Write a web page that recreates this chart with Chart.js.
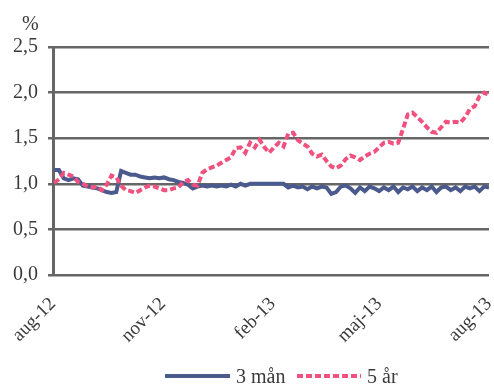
<!DOCTYPE html>
<html>
<head>
<meta charset="utf-8">
<script src="https://cdn.jsdelivr.net/npm/chart.js@4/dist/chart.umd.min.js"></script>
<style>
  html, body { margin: 0; padding: 0; background: #fff; }
  #wrap { width: 494px; height: 388px; }
</style>
</head>
<body>
<div id="wrap"><canvas id="c" width="494" height="388"></canvas></div>
<script>
// Days counted from 1 Aug 2012
const days = [
  1, 5, 9, 13, 17, 21, 25, 29, 33, 37, 41, 45, 49, 53, 57, 61, 65, 69, 73, 77,
  81, 85, 89, 93, 97, 101, 105, 109, 113, 117, 121, 125, 129, 133, 137, 141, 145, 149, 153, 157,
  161, 165, 169, 173, 177, 181, 185, 189, 193, 197, 201, 205, 209, 213, 217, 221, 225, 229, 233, 237,
  241, 245, 249, 253, 257, 261, 265, 269, 273, 277, 281, 285, 289, 293, 297, 301, 305, 309, 313, 317,
  321, 325, 329, 333, 337, 341, 345, 349, 353, 357, 361, 365
];

// 3-month rate, %
const rate3m = [
  1.15, 1.15, 1.06, 1.04, 1.06, 1.05, 0.98, 0.97, 0.96, 0.95, 0.93, 0.91, 0.90, 0.91, 1.14, 1.12, 1.10, 1.10, 1.08, 1.07,
  1.06, 1.07, 1.06, 1.07, 1.05, 1.04, 1.02, 1.01, 0.99, 0.95, 0.97, 0.98, 0.97, 0.98, 0.97, 0.98, 0.97, 0.99, 0.97, 1.00,
  0.98, 1.00, 1.00, 1.00, 1.00, 1.00, 1.00, 1.00, 1.00, 0.96, 0.98, 0.96, 0.97, 0.94, 0.97, 0.95, 0.97, 0.96, 0.89, 0.91,
  0.97, 0.98, 0.95, 0.90, 0.96, 0.92, 0.97, 0.95, 0.92, 0.96, 0.93, 0.97, 0.91, 0.96, 0.94, 0.97, 0.92, 0.96, 0.93, 0.97,
  0.91, 0.96, 0.97, 0.93, 0.96, 0.92, 0.97, 0.95, 0.97, 0.92, 0.97, 0.96
];

// 5-year rate, %
const rate5y = [
  1.01, 1.05, 1.12, 1.10, 1.08, 1.02, 1.00, 0.97, 0.96, 0.97, 0.93, 0.99, 1.09, 1.07, 0.98, 0.93, 0.92, 0.90, 0.93, 0.96,
  0.98, 0.97, 0.95, 0.93, 0.93, 0.95, 0.96, 1.02, 1.04, 0.99, 0.98, 1.12, 1.16, 1.18, 1.20, 1.23, 1.26, 1.29, 1.39, 1.40,
  1.34, 1.45, 1.40, 1.48, 1.40, 1.34, 1.40, 1.45, 1.41, 1.55, 1.56, 1.48, 1.44, 1.41, 1.33, 1.30, 1.32, 1.25, 1.19, 1.17,
  1.20, 1.27, 1.31, 1.29, 1.26, 1.30, 1.33, 1.35, 1.40, 1.45, 1.46, 1.44, 1.45, 1.60, 1.76, 1.78, 1.73, 1.68, 1.62, 1.57,
  1.56, 1.62, 1.68, 1.67, 1.68, 1.67, 1.73, 1.82, 1.85, 1.96, 2.00, 1.97
];

const seriesNames = ['3 mån', '5 år'];
const xTickDays = [0, 92, 184, 273, 365];
const xTickLabels = ['aug-12', 'nov-12', 'feb-13', 'maj-13', 'aug-13'];
const yTickValues = [0, 0.5, 1.0, 1.5, 2.0, 2.5];
const yTickLabels = ['0,0', '0,5', '1,0', '1,5', '2,0', '2,5'];

const BLUE = '#4b5a8c';
const PINK = '#f0517f';
const GRID = '#666666';
const TEXT = '#3a3a3a';
const FONT = '"Liberation Serif", "Times New Roman", serif';

const toPoints = (vals) => vals.map((v, i) => ({ x: days[i], y: v }));

// Unit label above the value axis and the legend row below the chart
const extras = {
  id: 'extras',
  afterDraw(chart) {
    const ctx = chart.ctx;
    ctx.save();
    ctx.fillStyle = TEXT;
    ctx.font = '20px ' + FONT;
    ctx.textBaseline = 'alphabetic';
    ctx.textAlign = 'left';
    ctx.fillText('%', 22, 30);

    const items = [
      { ds: chart.data.datasets[0], x0: 165, x1: 230, tx: 236 },
      { ds: chart.data.datasets[1], x0: 297, x1: 361, tx: 367 }
    ];
    const ly = 376;
    items.forEach(it => {
      ctx.save();
      ctx.strokeStyle = it.ds.borderColor;
      ctx.lineWidth = it.ds.borderWidth;
      ctx.lineCap = it.ds.borderCapStyle || 'butt';
      ctx.setLineDash(it.ds.borderDash || []);
      ctx.beginPath();
      ctx.moveTo(it.x0, ly);
      ctx.lineTo(it.x1, ly);
      ctx.stroke();
      ctx.restore();
      ctx.fillStyle = TEXT;
      ctx.textBaseline = 'middle';
      ctx.fillText(it.ds.label, it.tx, ly + 2);
    });
    ctx.restore();
  }
};

new Chart(document.getElementById('c'), {
  type: 'line',
  data: {
    datasets: [
      {
        label: seriesNames[0],
        data: toPoints(rate3m),
        borderColor: BLUE,
        borderWidth: 4,
        pointRadius: 0,
        tension: 0,
        order: 1
      },
      {
        label: seriesNames[1],
        data: toPoints(rate5y),
        borderColor: PINK,
        borderWidth: 4,
        borderDash: [6, 3],
        pointRadius: 0,
        tension: 0,
        order: 0
      }
    ]
  },
  options: {
    responsive: false,
    animation: false,
    layout: { padding: { top: 47, right: 5, left: 0, bottom: 0 } },
    plugins: {
      legend: { display: false },
      tooltip: { enabled: false }
    },
    scales: {
      x: {
        type: 'linear',
        min: 0,
        max: 365,
        afterBuildTicks(scale) {
          scale.ticks = xTickDays.map(v => ({ value: v }));
        },
        afterFit(scale) {
          scale.height = 113;
          scale.paddingLeft = 0;
          scale.paddingRight = 0;
        },
        grid: { display: false },
        border: { display: false },
        ticks: {
          autoSkip: false,
          maxRotation: 45,
          minRotation: 45,
          padding: 10,
          labelOffset: 0,
          color: TEXT,
          font: { family: FONT, size: 19 },
          callback(value) {
            const i = xTickDays.indexOf(value);
            return i >= 0 ? xTickLabels[i] : '';
          }
        }
      },
      y: {
        min: 0,
        max: 2.5,
        afterBuildTicks(scale) {
          scale.ticks = yTickValues.map(v => ({ value: v }));
        },
        afterFit(scale) { scale.width = 53; },
        grid: {
          color: GRID,
          lineWidth: 2.5,
          tickLength: 5,
          drawTicks: true
        },
        border: { display: true, color: GRID, width: 3 },
        ticks: {
          padding: 10,
          color: TEXT,
          font: { family: FONT, size: 20 },
          callback(value) {
            const i = yTickValues.indexOf(value);
            return i >= 0 ? yTickLabels[i] : '';
          }
        }
      }
    }
  },
  plugins: [extras]
});
</script>
</body>
</html>
